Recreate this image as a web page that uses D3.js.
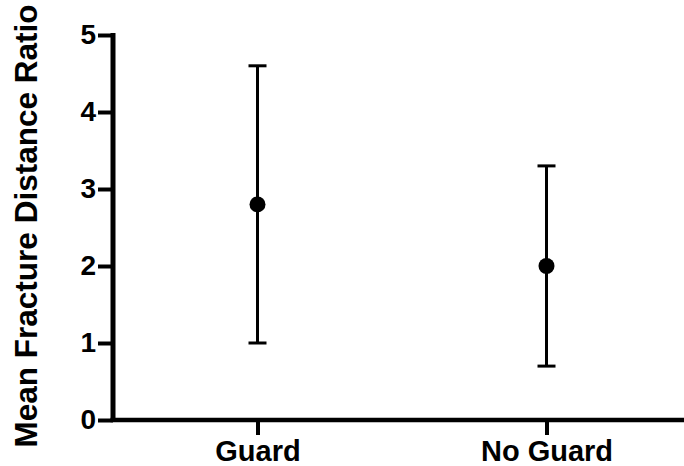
<!DOCTYPE html>
<html>
<head>
<meta charset="utf-8">
<script src="https://cdn.jsdelivr.net/npm/d3@7"></script>
<style>
  html, body { margin: 0; padding: 0; background: #fff; }
  svg { display: block; }
  text { font-family: "Liberation Sans", Arial, sans-serif; font-weight: bold; fill: #000; }
</style>
</head>
<body>
<svg id="chart" width="684" height="466"></svg>
<script>
// data
var groups = ["Guard", "No Guard"];
var means = [2.8, 2.0];
var lows = [1.0, 0.7];
var highs = [4.6, 3.3];
var yTicks = [0, 1, 2, 3, 4, 5];
var yTitle = "Mean Fracture Distance Ratio";

var svg = d3.select("#chart");
var mLeft = 113, mRight = 691, mTop = 35, mBottom = 420;

var x = d3.scalePoint().domain(groups).range([mLeft, mRight]).padding(0.5);
var y = d3.scaleLinear().domain([0, 5]).range([mBottom, mTop]);

// y axis
var gy = svg.append("g").attr("transform", "translate(" + mLeft + ",0)")
    .call(d3.axisLeft(y).tickValues(yTicks).tickFormat(d3.format("d"))
        .tickSize(15).tickSizeOuter(0).tickPadding(2));
gy.select(".domain").attr("stroke", "#000").attr("stroke-width", 5)
    .attr("d", "M0," + (mTop - 2) + "V" + (mBottom + 2));
gy.selectAll(".tick line").attr("stroke", "#000").attr("stroke-width", 4);
gy.selectAll(".tick text").style("font-size", "28px").attr("font-family", null);

// x axis
var gx = svg.append("g").attr("transform", "translate(0," + mBottom + ")")
    .call(d3.axisBottom(x).tickSize(15).tickSizeOuter(0).tickPadding(5));
gx.select(".domain").attr("stroke", "#000").attr("stroke-width", 4.5)
    .attr("d", "M" + (mLeft - 2.5) + ",0H" + mRight);
gx.selectAll(".tick line").attr("stroke", "#000").attr("stroke-width", 4);
gx.selectAll(".tick text").style("font-size", "29px").attr("font-family", null);

// y title
svg.append("text")
    .attr("transform", "translate(37,226) rotate(-90)")
    .attr("text-anchor", "middle")
    .style("font-size", "31.5px")
    .text(yTitle);

// error bars
var capW = 9;
var bars = svg.append("g").selectAll("g").data(groups).join("g");
bars.append("line")
    .attr("x1", d => x(d)).attr("x2", d => x(d))
    .attr("y1", (d, i) => y(lows[i])).attr("y2", (d, i) => y(highs[i]))
    .attr("stroke", "#000").attr("stroke-width", 3);
bars.append("line")
    .attr("x1", d => x(d) - capW).attr("x2", d => x(d) + capW)
    .attr("y1", (d, i) => y(highs[i])).attr("y2", (d, i) => y(highs[i]))
    .attr("stroke", "#000").attr("stroke-width", 3);
bars.append("line")
    .attr("x1", d => x(d) - capW).attr("x2", d => x(d) + capW)
    .attr("y1", (d, i) => y(lows[i])).attr("y2", (d, i) => y(lows[i]))
    .attr("stroke", "#000").attr("stroke-width", 3);
bars.append("circle")
    .attr("cx", d => x(d)).attr("cy", (d, i) => y(means[i]))
    .attr("r", 8).attr("fill", "#000");
</script>
</body>
</html>
